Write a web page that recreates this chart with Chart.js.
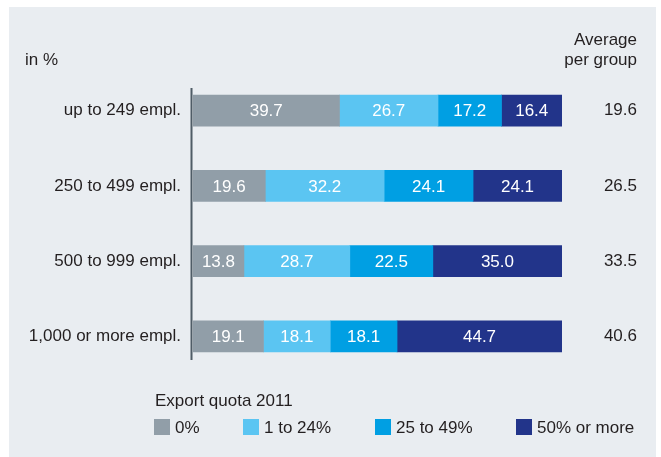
<!DOCTYPE html>
<html>
<head>
<meta charset="utf-8">
<script src="https://cdn.jsdelivr.net/npm/chart.js@4"></script>
<style>
  html, body { margin: 0; padding: 0; background: #ffffff; }
  #wrap { position: relative; width: 661px; height: 457px; }
</style>
</head>
<body>
<div id="wrap"><canvas id="myChart" width="661" height="457"></canvas></div>
<script>
const FONT = '"Liberation Sans", Arial, Helvetica, sans-serif';

// Company size groups and export quota shares (in %)
const categories = ['up to 249 empl.', '250 to 499 empl.', '500 to 999 empl.', '1,000 or more empl.'];
const quota0 = [39.7, 19.6, 13.8, 19.1];
const quota1to24 = [26.7, 32.2, 28.7, 18.1];
const quota25to49 = [17.2, 24.1, 22.5, 18.1];
const quota50plus = [16.4, 24.1, 35.0, 44.7];
const averages = [19.6, 26.5, 33.5, 40.6];

const seriesLabels = ['0%', '1 to 24%', '25 to 49%', '50% or more'];
const seriesColors = ['#919ea8', '#5bc5f2', '#009fe3', '#22348a'];
const legendX = [154, 243, 375, 516];

// panel background, axis line, headers
const backdrop = {
    id: 'backdrop',
    beforeDraw(chart) {
        const c = chart.ctx;
        c.save();
        c.fillStyle = '#e9edf1';
        c.fillRect(9, 7, 647, 450);
        c.restore();
    },
    afterDraw(chart) {
        const c = chart.ctx;
        const y = chart.scales.y;
        c.save();
        c.strokeStyle = '#4f5c66';
        c.lineWidth = 2;
        c.beginPath();
        c.moveTo(191.5, 88);
        c.lineTo(191.5, 360);
        c.stroke();

        c.fillStyle = '#231f20';
        c.font = '17px ' + FONT;
        c.textBaseline = 'middle';
        c.textAlign = 'left';
        c.fillText('in %', 25, 60);
        c.textAlign = 'right';
        c.fillText('Average', 637, 40);
        c.fillText('per group', 637, 60);
        averages.forEach(function(v, i) {
            c.fillText(v.toFixed(1), 637, y.getPixelForValue(i));
        });

        // legend
        c.textAlign = 'left';
        c.fillText('Export quota 2011', 155, 401);
        chart.data.datasets.forEach(function(ds, i) {
            c.fillStyle = ds.backgroundColor;
            c.fillRect(legendX[i], 419, 16, 16);
            c.fillStyle = '#231f20';
            c.fillText(ds.label, legendX[i] + 21, 428);
        });
        c.restore();
    }
};

// value labels inside the bars
const barValues = {
    id: 'barValues',
    afterDatasetsDraw(chart) {
        const c = chart.ctx;
        c.save();
        c.fillStyle = '#ffffff';
        c.font = '17px ' + FONT;
        c.textAlign = 'center';
        c.textBaseline = 'middle';
        chart.data.datasets.forEach(function(ds, i) {
            chart.getDatasetMeta(i).data.forEach(function(bar, j) {
                c.fillText(ds.data[j].toFixed(1), (bar.x + bar.base) / 2, bar.y + 1);
            });
        });
        c.restore();
    }
};

const ctx = document.getElementById('myChart').getContext('2d');
const myChart = new Chart(ctx, {
    type: 'bar',
    data: {
        labels: categories,
        datasets: [quota0, quota1to24, quota25to49, quota50plus].map(function(d, i) {
            return {
                label: seriesLabels[i],
                data: d,
                backgroundColor: seriesColors[i],
                borderWidth: 0,
                barThickness: 31
            };
        })
    },
    options: {
        indexAxis: 'y',
        responsive: false,
        animation: false,
        layout: { padding: { left: 0, right: 99, top: 73, bottom: 83 } },
        plugins: {
            legend: { display: false },
            tooltip: { enabled: false }
        },
        scales: {
            x: {
                stacked: true,
                min: 0,
                max: 100,
                display: false
            },
            y: {
                stacked: true,
                grid: { display: false, drawTicks: false },
                border: { display: false },
                ticks: {
                    color: '#231f20',
                    font: { family: FONT, size: 17 },
                    padding: 12
                },
                afterFit(scale) { scale.width = 193; }
            }
        }
    },
    plugins: [backdrop, barValues]
});
</script>
</body>
</html>
